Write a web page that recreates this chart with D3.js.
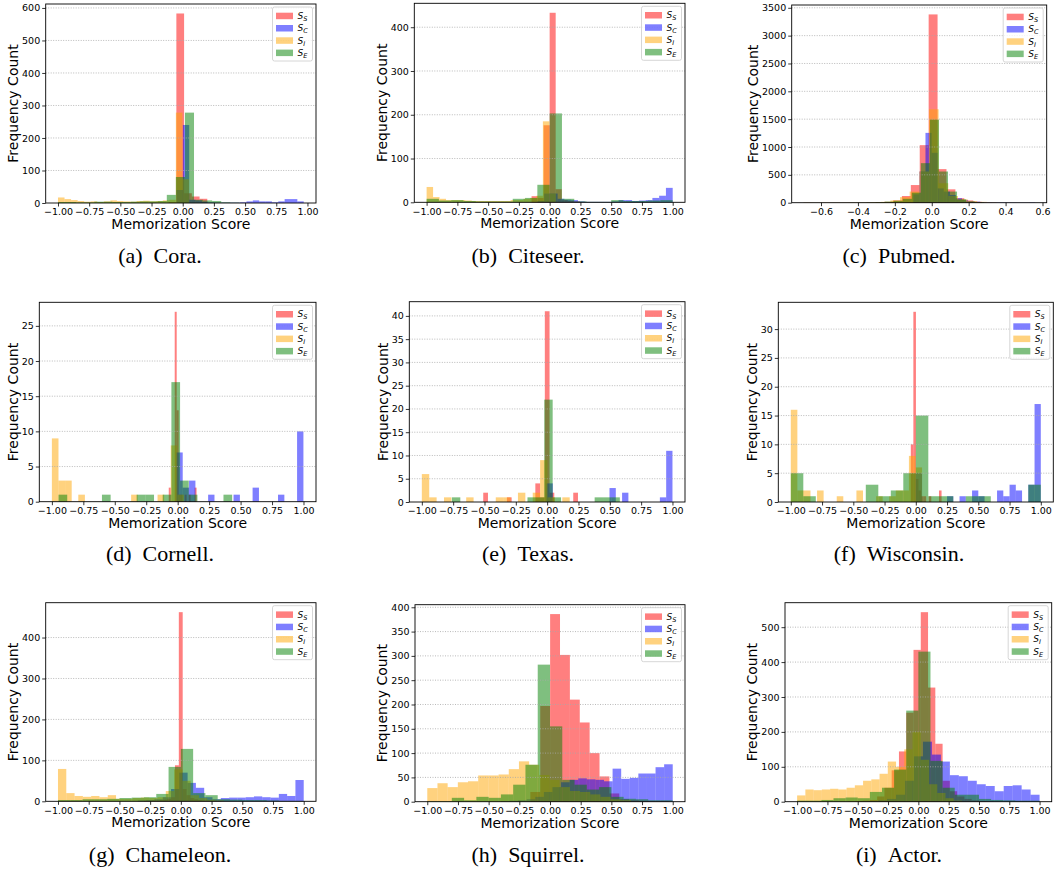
<!DOCTYPE html>
<html>
<head>
<meta charset="utf-8">
<script src="https://cdn.jsdelivr.net/npm/d3@7"></script>
<style>
  body { margin: 0; background: #fff; }
</style>
</head>
<body>
<svg id="chart" width="1058" height="872" font-family="DejaVu Sans, sans-serif"></svg>
<script>
// datasets, one panel each
var datasets = ["Cora", "Citeseer", "Pubmed", "Cornell", "Texas", "Wisconsin", "Chameleon", "Squirrel", "Actor"];
var letters = ["a", "b", "c", "d", "e", "f", "g", "h", "i"];
var seriesSub = ["S", "C", "I", "E"];   // S_S, S_C, S_I, S_E

// each series: [first bin edge, bin width, counts]  (order S_S, S_C, S_I, S_E)
var cora = [
  [-0.113, 0.062, [3, 583, 30, 20, 13]],
  [-0.05, 0.051, [40, 240, 10, 8, 4, 2, 1, 1, 1, 1, 2, 5, 8, 5, 5, 2, 5, 12, 12, 5]],
  [-1, 0.0525, [17, 12, 9, 6, 4, 5, 3, 5, 8, 6, 5, 4, 6, 7, 5, 6, 8, 10, 278, 73]],
  [-1, 0.0727, [3, 3, 2, 2, 4, 4, 3, 3, 4, 5, 5, 6, 25, 80, 278, 10, 8, 6, 2, 1]]
];
var citeseer = [
  [-0.147, 0.049, [14, 10, 176, 433, 30, 5, 3, 2]],
  [-0.1, 0.055, [3, 20, 20, 8, 6, 5, 2, 1, 1, 1, 1, 2, 5, 5, 3, 4, 5, 10, 15, 33]],
  [-1, 0.0525, [35, 12, 8, 5, 5, 5, 4, 3, 3, 3, 3, 3, 3, 5, 5, 8, 10, 15, 185, 20]],
  [-1, 0.1, [8, 4, 5, 3, 2, 2, 2, 8, 10, 40, 203, 8, 2, 1, 1, 5, 3, 3, 4, 5]]
];
var pubmed = [
  [-0.693, 0.0483, [2, 1, 2, 2, 2, 3, 3, 5, 8, 15, 40, 120, 317, 1033, 3381, 603, 240, 80, 40, 15]],
  [-0.1, 0.033, [150, 560, 1254, 896, 257, 200, 137, 80, 50, 30, 20, 10, 8, 6, 5, 5, 4, 3, 3, 5]],
  [-0.695, 0.0523, [3, 2, 2, 2, 3, 3, 5, 8, 15, 40, 100, 200, 560, 1678, 350, 120, 60, 30, 15, 8]],
  [-0.696, 0.049, [2, 2, 2, 3, 3, 4, 5, 8, 12, 20, 35, 70, 180, 710, 1492, 560, 200, 60, 20, 8]]
];
var cornell = [
  [-0.071, 0.0158, [2, 0, 0, 27, 13, 1, 1, 0, 1, 0, 1, 0, 0, 2]],
  [-0.0105, 0.0505, [7, 2, 3, 0, 0, 1, 0, 0, 0, 1, 0, 0, 2, 0, 0, 0, 1, 0, 0, 10]],
  [-1, 0.0525, [9, 3, 3, 0, 1, 0, 0, 0, 0, 0, 0, 0, 1, 0, 0, 0, 1, 0, 8, 1]],
  [-0.947, 0.069, [1, 0, 0, 0, 0, 1, 0, 0, 0, 1, 1, 0, 1, 17, 3, 1, 0, 0, 0, 1]]
];
var texas = [
  [-0.51, 0.0378, [2, 0, 0, 0, 0, 1, 0, 0, 0, 0, 0, 4, 1, 41, 2, 0, 0, 0, 0, 2]],
  [-0.005, 0.05025, [4, 0, 0, 0, 0, 0, 0, 0, 0, 0, 3, 0, 2, 0, 0, 0, 0, 0, 1, 11]],
  [-1, 0.059, [6, 1, 0, 1, 0, 0, 1, 0, 0, 0, 1, 1, 0, 2, 0, 2, 9, 1, 0, 1]],
  [-0.76, 0.067, [1, 0, 0, 0, 0, 0, 0, 0, 0, 1, 1, 22, 1, 0, 0, 0, 0, 1, 1, 1]]
];
var wisconsin = [
  [-0.04, 0.0205, [10, 33, 4, 2, 1, 1, 0, 1, 0, 0, 0, 2]],
  [0, 0.05, [5, 0, 0, 0, 0, 1, 0, 1, 0, 2, 1, 0, 0, 2, 1, 3, 2, 0, 3, 17]],
  [-1, 0.0525, [16, 2, 2, 0, 2, 0, 0, 1, 0, 0, 2, 0, 0, 1, 0, 1, 2, 2, 8, 6]],
  [-1, 0.1, [5, 1, 0, 0, 0, 0, 3, 1, 2, 5, 15, 1, 1, 0, 1, 1, 0, 0, 0, 3]]
];
var chameleon = [
  [-0.3, 0.0315, [1, 1, 2, 2, 3, 4, 6, 10, 88, 462, 30, 15, 8, 5, 3, 2, 2, 1, 1, 1]],
  [-0.35, 0.0675, [2, 3, 5, 10, 30, 70, 45, 33, 10, 5, 8, 9, 9, 10, 12, 10, 9, 18, 13, 52]],
  [-1, 0.0675, [79, 20, 13, 11, 13, 10, 15, 6, 6, 8, 9, 8, 10, 25, 78, 50, 15, 8, 4, 2]],
  [-1, 0.1, [3, 3, 5, 5, 6, 8, 9, 10, 18, 84, 128, 20, 15, 5, 4, 3, 3, 2, 1, 1]]
];
var squirrel = [
  [-0.16, 0.0805, [20, 197, 386, 302, 210, 163, 100, 52, 17, 5, 3, 2, 1, 1]],
  [-0.4, 0.07, [1, 2, 3, 5, 10, 20, 30, 40, 45, 48, 46, 45, 42, 68, 47, 49, 58, 58, 71, 77]],
  [-1, 0.083, [28, 38, 30, 40, 42, 54, 54, 56, 67, 83, 76, 55, 45, 30, 22, 20, 15, 10, 5, 3]],
  [-1, 0.1, [1, 1, 8, 3, 10, 8, 15, 35, 76, 282, 155, 45, 35, 25, 30, 10, 6, 5, 3, 3]]
];
var actor = [
  [-0.58, 0.06, [1, 2, 3, 5, 15, 40, 90, 144, 255, 435, 543, 327, 166, 60, 30, 15, 8, 4, 2, 1]],
  [-0.48, 0.074, [1, 2, 4, 8, 20, 60, 130, 172, 135, 115, 76, 73, 60, 50, 45, 30, 45, 47, 35, 20]],
  [-1, 0.068, [18, 35, 33, 35, 37, 35, 40, 47, 60, 64, 80, 115, 100, 150, 200, 120, 50, 25, 10, 3]],
  [-1, 0.1, [3, 3, 5, 10, 12, 10, 28, 40, 92, 261, 430, 117, 40, 20, 20, 8, 5, 4, 3, 3]]
];
var panels = [cora, citeseer, pubmed, cornell, texas, wisconsin, chameleon, squirrel, actor];

// tick labels
var xTicksUnit = [-1, -0.75, -0.5, -0.25, 0, 0.25, 0.5, 0.75, 1];
var xTicksPubmed = [-0.6, -0.4, -0.2, 0, 0.2, 0.4, 0.6];
var yStep = [100, 100, 500, 5, 5, 5, 100, 50, 100];

// ---- layout ----
var colors = ["red", "blue", "orange", "green"];
// axes box of each panel: left, top, right, bottom
var frames = [
  [45.7, 4, 316, 203], [414.3, 3.3, 685, 202.3], [791.7, 5, 1046.7, 202.7],
  [39.3, 302.3, 316, 501.7], [409.3, 301.7, 685, 502], [778.3, 302.3, 1053.3, 502],
  [45.7, 602.7, 316, 801.3], [415, 604.7, 685, 801.7], [785, 602.7, 1051.7, 801.7]
];
var colCenter = [160, 528, 899];
var rowBase = [263, 561, 862];

var svg = d3.select("#chart");

panels.forEach(function(hist, k) {
  var l = frames[k][0], t = frames[k][1], r = frames[k][2], b = frames[k][3];
  var g = svg.append("g").attr("class", "panel");

  var xmin = d3.min(hist, function(s) { return s[0]; });
  var xmax = d3.max(hist, function(s) { return s[0] + s[1] * s[2].length; });
  var pad = (xmax - xmin) * 0.05;
  var x = d3.scaleLinear().domain([xmin - pad, xmax + pad]).range([l, r]);
  var ymax = d3.max(hist, function(s) { return d3.max(s[2]); }) * 1.05;
  var y = d3.scaleLinear().domain([0, ymax]).range([b, t]);

  // bars, one series after the other like plt.hist with alpha .5
  hist.forEach(function(s, i) {
    var bins = s[2].map(function(c, j) {
      return { x0: s[0] + j * s[1], x1: s[0] + (j + 1) * s[1], c: c };
    }).filter(function(d) { return d.c > 0; });

    g.append("g").selectAll("rect")
      .data(bins)
      .enter().append("rect")
      .attr("x", function(d) { return x(d.x0); })
      .attr("width", function(d) { return x(d.x1) - x(d.x0); })
      .attr("y", function(d) { return y(d.c); })
      .attr("height", function(d) { return y(0) - y(d.c); })
      .attr("fill", colors[i])
      .attr("fill-opacity", 0.5);
  });

  var yticks = d3.range(0, ymax, yStep[k]);

  // dotted horizontal grid
  g.append("g").selectAll("line")
    .data(yticks.filter(function(v) { return v > 0; }))
    .enter().append("line")
    .attr("x1", l).attr("x2", r)
    .attr("y1", function(v) { return y(v); })
    .attr("y2", function(v) { return y(v); })
    .attr("stroke", "#a8a8a8")
    .attr("stroke-width", 0.8)
    .attr("stroke-dasharray", "1,1.5");

  var xt = k === 2 ? xTicksPubmed : xTicksUnit;
  var xfmt = k === 2 ? d3.format(".1f") : d3.format(".2f");

  var xAxis = g.append("g")
    .attr("transform", "translate(0," + b + ")")
    .call(d3.axisBottom(x).tickValues(xt).tickFormat(xfmt).tickSize(3.5).tickPadding(2));
  var yAxis = g.append("g")
    .attr("transform", "translate(" + l + ",0)")
    .call(d3.axisLeft(y).tickValues(yticks).tickFormat(d3.format("d")).tickSize(3.5).tickPadding(2));

  [xAxis, yAxis].forEach(function(a) {
    a.select(".domain").remove();
    a.attr("font-family", "DejaVu Sans").attr("font-size", 9.5);
    a.selectAll("text").attr("fill", "#000");
    a.selectAll("line").attr("stroke", "#000").attr("stroke-width", 0.8);
  });

  g.append("rect")
    .attr("x", l).attr("y", t)
    .attr("width", r - l).attr("height", b - t)
    .attr("fill", "none")
    .attr("stroke", "#000")
    .attr("stroke-width", 0.9);

  // axis titles
  g.append("text")
    .attr("x", (l + r) / 2)
    .attr("y", b + 26)
    .attr("text-anchor", "middle")
    .attr("font-size", 14)
    .text("Memorization Score");

  // bbox is in the axis group's own coords, so add l back
  var tickLeft = l + yAxis.node().getBBox().x;
  var ly = (t + b) / 2;
  g.append("text")
    .attr("transform", "translate(" + (tickLeft - 4) + "," + ly + ") rotate(-90)")
    .attr("text-anchor", "middle")
    .attr("font-size", 14)
    .text("Frequency Count");

  // legend
  var lw = 40, lh = 54;
  var lx = r - 3.5 - lw, lyTop = t + 3;
  var leg = g.append("g");
  leg.append("rect")
    .attr("x", lx).attr("y", lyTop)
    .attr("width", lw).attr("height", lh)
    .attr("rx", 2)
    .attr("fill", "#fff").attr("fill-opacity", 0.8)
    .attr("stroke", "#cccccc").attr("stroke-width", 0.8);

  seriesSub.forEach(function(sub, i) {
    var cy = lyTop + 9 + i * 12.3;
    leg.append("rect")
      .attr("x", lx + 3.5).attr("y", cy - 3.3)
      .attr("width", 17).attr("height", 6.5)
      .attr("fill", colors[i]).attr("fill-opacity", 0.5);
    var txt = leg.append("text")
      .attr("x", lx + 25)
      .attr("y", cy + 3)
      .attr("font-size", 9)
      .attr("font-style", "italic");
    txt.append("tspan").text("S");
    txt.append("tspan").attr("dy", 2).attr("font-size", 6.5).text(sub);
  });

  // caption under the panel
  svg.append("text")
    .attr("x", colCenter[k % 3])
    .attr("y", rowBase[Math.floor(k / 3)])
    .attr("text-anchor", "middle")
    .attr("font-family", "Liberation Serif, Times New Roman, serif")
    .attr("font-size", 22)
    .text("(" + letters[k] + ")\u2002" + datasets[k] + ".");
});
</script>
</body>
</html>
